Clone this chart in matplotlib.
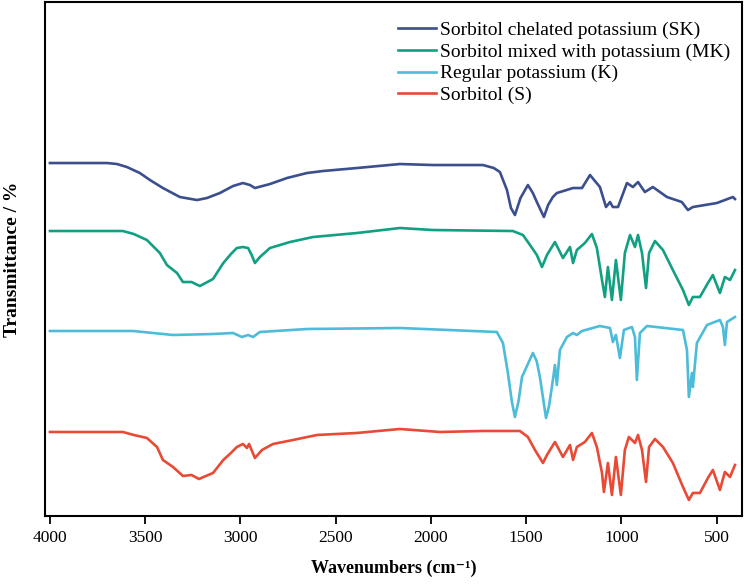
import matplotlib
matplotlib.use("Agg")
import matplotlib.pyplot as plt

# FTIR spectra, transmittance in arbitrary units (curves stacked with offsets)
sk_wn = [4000, 3850, 3700, 3648, 3596, 3528, 3475, 3407, 3318, 3228, 3176, 3108, 3039,
         2987, 2950, 2924, 2845, 2756, 2651, 2567, 2389, 2163, 1990, 1727, 1670, 1638,
         1601, 1580, 1559, 1530, 1491, 1465, 1444, 1407, 1385, 1360, 1339, 1254, 1207,
         1165, 1113, 1081, 1060, 1045, 1018, 971, 940, 913, 877, 835, 761, 683, 651,
         625, 499, 415, 404]
sk_t = [353, 353, 353, 352, 349, 343, 336, 328, 319, 316, 318, 323, 330,
        333, 331, 328, 332, 338, 343, 345, 348, 352, 351, 351, 348, 344,
        326, 308, 301, 318, 331, 323, 314, 299, 311, 319, 323, 328, 328,
        341, 329, 309, 314, 309, 309, 333, 329, 334, 324, 329, 319, 314, 306,
        309, 313, 319, 317]

mk_wn = [4000, 3800, 3617, 3560, 3491, 3423, 3386, 3333, 3302, 3257, 3213, 3144, 3090,
         3050, 3019, 2987, 2960, 2941, 2924, 2898, 2845, 2740, 2619, 2389, 2163, 1990,
         1570, 1517, 1480, 1444, 1417, 1391, 1349, 1307, 1270, 1254, 1234, 1192, 1155,
         1129, 1102, 1087, 1071, 1050, 1029, 1003, 982, 955, 929, 913, 892, 871, 855,
         824, 782, 730, 677, 646, 625, 588, 546, 520, 483, 457, 430, 404]
mk_t = [285, 285, 285, 282, 276, 263, 251, 243, 234, 234, 230, 237, 253,
        262, 268, 269, 268, 261, 253, 259, 268, 274, 279, 283, 288, 286,
        285, 281, 271, 261, 249, 261, 274, 258, 269, 253, 266, 273, 282,
        268, 236, 219, 249, 216, 256, 216, 263, 281, 269, 281, 263, 228, 263,
        275, 266, 246, 226, 211, 219, 219, 233, 241, 223, 239, 236, 246]

k_wn = [4000, 3564, 3354, 3144, 3039, 2992, 2960, 2934, 2898, 2651, 2163, 1654, 1622,
        1596, 1575, 1559, 1540, 1522, 1465, 1445, 1428, 1396, 1380, 1365, 1349, 1339,
        1323, 1286, 1254, 1234, 1207, 1113, 1060, 1045, 1029, 1008, 987, 945, 929, 919,
        903, 866, 677, 656, 646, 630, 625, 604, 551, 483, 467, 457, 446, 404]
k_t = [185, 185, 181, 182, 183, 179, 181, 179, 184, 187, 188, 184, 173,
       143, 114, 99, 115, 139, 163, 155, 139, 98, 110, 129, 151, 131,
       166, 179, 183, 181, 185, 190, 188, 174, 181, 158, 186, 189, 179, 136,
       183, 190, 186, 166, 119, 143, 129, 173, 191, 196, 189, 171, 194, 199]

s_wn = [4000, 3617, 3560, 3491, 3438, 3407, 3354, 3302, 3257, 3218, 3144, 3090, 3050,
        3019, 2987, 2966, 2955, 2924, 2887, 2829, 2724, 2598, 2389, 2163, 1953, 1727,
        1533, 1491, 1454, 1412, 1391, 1349, 1307, 1270, 1254, 1234, 1192, 1155, 1129,
        1102, 1092, 1071, 1050, 1029, 1003, 982, 961, 929, 913, 892, 871, 855, 824, 782,
        730, 677, 646, 625, 588, 546, 520, 483, 457, 430, 404]
s_t = [84, 84, 81, 78, 69, 56, 49, 40, 41, 37, 43, 56, 63,
       69, 72, 68, 72, 58, 66, 72, 76, 81, 83, 87, 84, 85,
       85, 79, 66, 53, 61, 74, 59, 71, 56, 69, 74, 83, 69,
       43, 24, 53, 21, 59, 21, 66, 79, 73, 81, 66, 34, 69, 77, 69,
       53, 29, 16, 23, 23, 38, 46, 26, 44, 39, 51]

labels = ["Sorbitol chelated potassium (SK)", "Sorbitol mixed with potassium (MK)",
          "Regular potassium (K)", "Sorbitol (S)"]
colors = ["#3b4f8e", "#11a081", "#4cbcd9", "#e84a36"]
xticks = [4000, 3500, 3000, 2500, 2000, 1500, 1000, 500]

plt.rcParams["font.family"] = ["Liberation Serif", "DejaVu Serif"]

fig = plt.figure(figsize=(7.45, 5.86), dpi=100)
ax = fig.add_axes([0.0604, 0.1195, 0.9356, 0.877])

series = [(sk_wn, sk_t), (mk_wn, mk_t), (k_wn, k_t), (s_wn, s_t)]
for (wn, t), label, color in zip(series, labels, colors):
    ax.plot(wn, t, color=color, linewidth=1.9, label=label, solid_joinstyle="round")

ax.set_xlim(4026, 367)
ax.set_ylim(0, 514)
ax.set_xticks(xticks)
ax.set_yticks([])
ax.tick_params(axis="x", direction="out", length=6, width=1.3, labelsize=12.5, pad=4)
for spine in ax.spines.values():
    spine.set_linewidth(1.5)

ax.set_xlabel("Wavenumbers (cm\u207b\u00b9)", fontsize=13, fontweight="bold", labelpad=10)
ax.set_ylabel("Transmittance / %", fontsize=14, fontweight="bold")
ax.yaxis.set_label_coords(-0.035, 0.5)

ax.legend(loc="upper left", bbox_to_anchor=(0.496, 0.977), frameon=False,
          fontsize=14, handlelength=1.95, handletextpad=0.2, labelspacing=0.2,
          borderaxespad=0)

fig.savefig("out.png", dpi=100)
plt.close(fig)
